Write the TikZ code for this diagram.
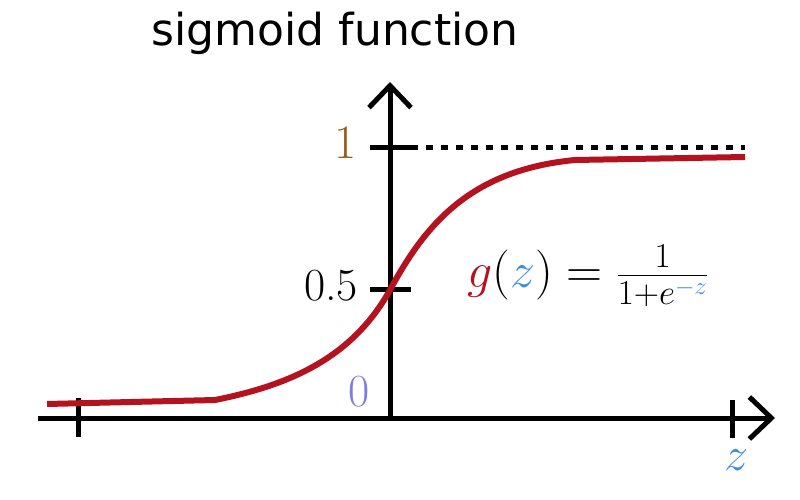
\RequirePackage{fix-cm}
\documentclass[tikz,border=0pt]{standalone}
\usepackage{fontspec}
\usepackage{tikz}
\usetikzlibrary{arrows.meta}
\newfontfamily\titlefont{DejaVu Sans}
\definecolor{curvered}{RGB}{180,18,30}
\definecolor{onebrown}{RGB}{150,90,25}
\definecolor{zeropurple}{RGB}{125,125,230}
\definecolor{zblue}{RGB}{60,140,225}
\begin{document}
\begin{tikzpicture}[x=1pt,y=-1pt,line width=5pt,
  axis/.style={draw=black,-{Straight Barb[length=22pt,width=42pt]}},
  tick/.style={draw=black},
  lab/.style={inner sep=0pt,font=\fontsize{46}{46}\selectfont}]
\useasboundingbox (0,0) rectangle (800,500);
% axes
\coordinate (O) at (390,418);
\coordinate (xstart) at (38,418);
\coordinate (xend) at (775,418);
\coordinate (ytop) at (390,82);
\draw[axis] (O) -- (ytop);
\draw[axis] (xstart) -- (xend);
% ticks
\coordinate (oneL) at (370,147);
\coordinate (oneR) at (411,147);
\coordinate (halfL) at (370,289);
\coordinate (halfR) at (411,289);
\coordinate (dotsEnd) at (745,147);
\coordinate (lowT) at (78,398);
\coordinate (lowB) at (78,437);
\coordinate (highT) at (732,400);
\coordinate (highB) at (732,438);
\draw[tick] (oneL) -- (oneR);
\draw[tick] (halfL) -- (halfR);
\draw[tick,dash pattern=on 7pt off 8pt] (oneR) -- (dotsEnd);
\draw[tick] (lowT) -- (lowB);
\draw[tick] (highT) -- (highB);
% sigmoid curve
\draw[curvered,line width=6pt,line join=round] (47,404) -- (215,400)
  .. controls (290,385) and (352,358) .. (390,290)
  .. controls (425,225) and (470,170) .. (575,160) -- (745,157);
% labels
\node[font=\titlefont\fontsize{44}{44}\selectfont] (title) at (335,33) {sigmoid function};
\node[lab,text=onebrown,font=\fontsize{48}{48}\selectfont] (one) at (346,143) {1};
\node[lab] (half) at (331,286) {0.5};
\node[lab,text=zeropurple] (zero) at (359,392) {0};
\node[lab,text=zblue,font=\fontsize{48}{48}\selectfont] (zlab) at (736,460) {$z$};
\node[lab,font=\fontsize{50}{50}\selectfont] (gz) at (588,276)
  {${\color{curvered}g}({\color{zblue}z})=\frac{1}{1+e^{\color{zblue}-z}}$};
\end{tikzpicture}
\end{document}
